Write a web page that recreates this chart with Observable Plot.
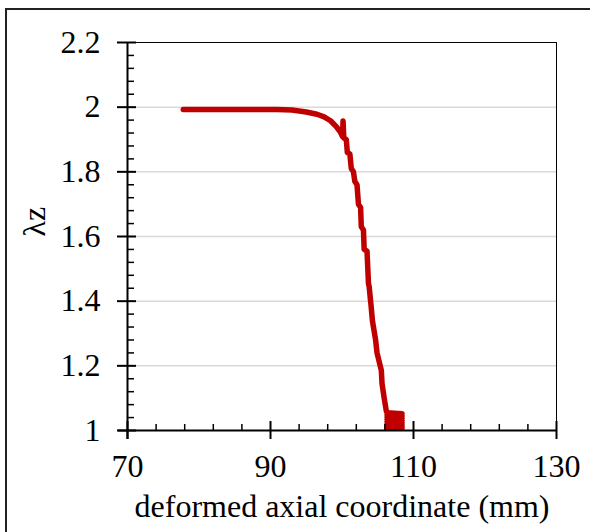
<!DOCTYPE html>
<html><head><meta charset="utf-8">
<script src="https://cdn.jsdelivr.net/npm/d3@7"></script>
<script src="https://cdn.jsdelivr.net/npm/@observablehq/plot@0.6"></script>
<style>
html,body{margin:0;padding:0;background:#fff;overflow:hidden;}
#wrap{position:relative;width:590px;height:532px;overflow:hidden;}
#frame{position:absolute;left:5px;top:8px;width:700px;height:700px;border:2px solid #222;box-sizing:border-box;}
#chart{position:absolute;left:0;top:0;}
#chart svg, #chart svg text, #chart svg g{font-family:"Liberation Serif","Times New Roman",serif !important;}
</style></head><body><div id="wrap"><div id="frame"></div><div id="chart"></div></div>
<script>
// Curve data (deformed axial coordinate in mm, λz)
const xVals = [77.8, 84.0, 90.9, 93.0, 95.0, 96.5, 97.5, 98.4, 99.2, 99.8, 100.05, 100.15, 100.25, 100.6, 100.75, 101.1, 101.3, 101.6, 101.8, 102.1, 102.3, 102.6, 102.7, 103.0, 103.1, 103.5, 103.7, 103.8, 104.0, 104.05, 104.25, 104.7, 104.9, 105.5, 105.6, 105.9, 106.2,
  106.3, 108.4, 106.3, 108.4, 106.3, 108.4, 106.3, 108.4, 106.3, 108.4, 106.3, 108.4, 106.3, 108.4, 106.3, 108.4];
const yVals = [1.993, 1.993, 1.993, 1.991, 1.985, 1.978, 1.970, 1.958, 1.940, 1.922, 1.910, 1.957, 1.905, 1.900, 1.860, 1.855, 1.810, 1.800, 1.770, 1.760, 1.700, 1.690, 1.630, 1.620, 1.560, 1.555, 1.455, 1.445, 1.400, 1.390, 1.340, 1.280, 1.240, 1.186, 1.145, 1.100, 1.060,
  1.055, 1.052, 1.048, 1.045, 1.041, 1.038, 1.034, 1.031, 1.027, 1.024, 1.020, 1.017, 1.014, 1.011, 1.009, 1.008];

const xMajor = [70, 90, 110, 130];
const xMinor = [74, 78, 82, 86, 94, 98, 102, 106, 114, 118, 122, 126];
const yMajor = [1, 1.2, 1.4, 1.6, 1.8, 2, 2.2];
const yGrid = [1.2, 1.4, 1.6, 1.8, 2];
const yMinor = [1.04, 1.08, 1.12, 1.16, 1.24, 1.28, 1.32, 1.36, 1.44, 1.48, 1.52, 1.56, 1.64, 1.68, 1.72, 1.76, 1.84, 1.88, 1.92, 1.96, 2.04, 2.08, 2.12, 2.16];
const xTitle = "deformed axial coordinate (mm)";
const yTitle = "λz";

const points = xVals.map((x, i) => ({x, y: yVals[i]}));
const font = "Liberation Serif, serif";
const fs = 32;

const chart = Plot.plot({
  width: 590, height: 532,
  marginLeft: 127, marginRight: 34, marginTop: 42, marginBottom: 102,
  style: {fontFamily: font, fontSize: fs + "px", color: "#000", background: "transparent", overflow: "visible"},
  x: {domain: [70, 130]},
  y: {domain: [1, 2.2]},
  marks: [
    Plot.ruleY(yGrid, {stroke: "#d9d9d9", strokeWidth: 1.5}),
    Plot.ruleY([2.2], {stroke: "#000", strokeWidth: 1}),
    Plot.ruleX([130], {stroke: "#000", strokeWidth: 1}),
    Plot.line(points, {x: "x", y: "y", stroke: "#c00000", strokeWidth: 5.5, strokeLinejoin: "round", strokeLinecap: "round"}),
    Plot.ruleX([70], {stroke: "#000", strokeWidth: 2, insetBottom: -9}),
    Plot.ruleY([1], {stroke: "#000", strokeWidth: 2, insetLeft: -9}),
    Plot.axisX({ticks: xMajor, tickSize: 9, tickPadding: 15, strokeWidth: 2, tickFormat: d => String(d), label: null, fontSize: fs, fontFamily: font}),
    Plot.axisX({ticks: xMajor, tickSize: 9, dy: -9, strokeWidth: 2, tickFormat: () => "", label: null}),
    Plot.axisX({ticks: xMinor, tickSize: 6, dy: -6, strokeWidth: 1.5, tickFormat: () => "", label: null}),
    Plot.axisY({ticks: yMajor, tickSize: 10, tickPadding: 17, strokeWidth: 2, tickFormat: d => String(d), label: null, fontSize: fs, fontFamily: font}),
    Plot.axisY({ticks: yMajor, tickSize: 9, dx: 9, strokeWidth: 2, tickFormat: () => "", label: null}),
    Plot.axisY({ticks: yMinor, tickSize: 7, dx: 7, strokeWidth: 1.5, tickFormat: () => "", label: null}),
    Plot.text([xTitle], {frameAnchor: "bottom", dy: 76, lineAnchor: "middle", fontSize: fs, fontFamily: font, fill: "#000"}),
    Plot.text([yTitle], {frameAnchor: "left", dx: -93, rotate: -90, lineAnchor: "middle", fontSize: fs, fontFamily: font, fill: "#000"})
  ]
});
document.getElementById("chart").appendChild(chart);
</script>
</body></html>
